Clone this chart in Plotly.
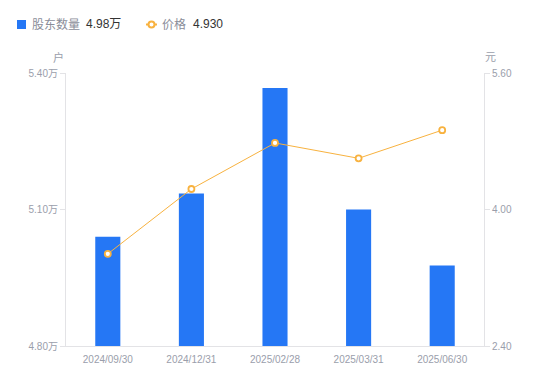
import plotly.graph_objects as go

# ---- data ----
dates = ["2024/09/30", "2024/12/31", "2025/02/28", "2025/03/31", "2025/06/30"]
holders_wan = [5.04, 5.135, 5.367, 5.10, 4.977]   # 股东数量 (万户)
price = [3.48, 4.24, 4.78, 4.60, 4.93]             # 价格 (元)
left_ticks = [4.80, 5.10, 5.40]
right_ticks = [2.40, 4.00, 5.60]

W, H = 550, 381
L, R, T, B = 66, 484, 73, 346

def px(x):
    return (x - L) / (R - L)

def py(y):
    return (B - y) / (B - T)

FONT = "Liberation Sans, Arial, Noto Sans CJK SC, sans-serif"
GRAY = "#9a9eab"
AXIS = "#e3e3e6"
BLUE = "#2577F5"
ORANGE = "#F8B23F"

fig = go.Figure()
fig.add_trace(go.Bar(
    x=dates, y=holders_wan, name="股东数量",
    marker=dict(color=BLUE, line=dict(width=0)),
    width=0.3, yaxis="y", showlegend=False,
))
fig.add_trace(go.Scatter(
    x=dates, y=price, name="价格", mode="lines+markers",
    line=dict(color=ORANGE, width=1),
    marker=dict(size=6, color="white", line=dict(color=ORANGE, width=1.8)),
    yaxis="y2", showlegend=False,
))

fig.update_layout(
    width=W, height=H,
    margin=dict(l=L, r=W - R, t=T, b=H - B, pad=0),
    plot_bgcolor="white", paper_bgcolor="white",
    font=dict(family=FONT, size=10, color=GRAY),
    showlegend=False,
    xaxis=dict(
        type="category", showline=True, linecolor=AXIS, linewidth=1,
        ticks="outside", ticklen=4, tickcolor="rgba(0,0,0,0)",
        showgrid=False, tickfont=dict(size=10, color=GRAY),
        range=[-0.5, 4.5], fixedrange=True,
    ),
    yaxis=dict(
        range=[4.80, 5.40], tickvals=left_ticks,
        ticktext=[f"{v:.2f}万" for v in left_ticks],
        showline=True, linecolor=AXIS, linewidth=1,
        ticks="outside", ticklen=5, tickcolor=AXIS, tickwidth=1,
        showgrid=False, zeroline=False, tickfont=dict(size=10, color=GRAY),
    ),
    yaxis2=dict(
        range=[2.40, 5.60], tickvals=right_ticks,
        ticktext=[f"{v:.2f}" for v in right_ticks],
        overlaying="y", side="right",
        showline=True, linecolor=AXIS, linewidth=1,
        ticks="outside", ticklen=5, tickcolor=AXIS, tickwidth=1,
        showgrid=False, zeroline=False, tickfont=dict(size=10, color=GRAY),
    ),
)

# axis unit labels
fig.add_annotation(text="户", x=px(58.5), y=py(57), xref="paper", yref="paper",
                   showarrow=False, font=dict(size=11, color=GRAY),
                   xanchor="center", yanchor="middle")
fig.add_annotation(text="元", x=px(490), y=py(57), xref="paper", yref="paper",
                   showarrow=False, font=dict(size=11, color=GRAY),
                   xanchor="center", yanchor="middle")

# custom legend
ly = 24.5
fig.add_shape(type="rect", xref="paper", yref="paper",
              x0=px(17), x1=px(26), y0=py(20), y1=py(29),
              fillcolor=BLUE, line=dict(width=0))
fig.add_annotation(text="股东数量", x=px(30), y=py(ly), xref="paper", yref="paper",
                   showarrow=False, xanchor="left", yanchor="middle",
                   font=dict(size=12, color="#8a8d99"))
fig.add_annotation(text=f"{holders_wan[-1]:.2f}万", x=px(84), y=py(ly), xref="paper", yref="paper",
                   showarrow=False, xanchor="left", yanchor="middle",
                   font=dict(size=12, color="#333333"))
fig.add_shape(type="line", xref="paper", yref="paper",
              x0=px(146), x1=px(157), y0=py(ly), y1=py(ly),
              line=dict(color=ORANGE, width=2))
fig.add_shape(type="circle", xref="paper", yref="paper",
              x0=px(148.5), x1=px(154.5), y0=py(21.5), y1=py(27.5),
              fillcolor="white", line=dict(color=ORANGE, width=2))
fig.add_annotation(text="价格", x=px(160), y=py(ly), xref="paper", yref="paper",
                   showarrow=False, xanchor="left", yanchor="middle",
                   font=dict(size=12, color="#8a8d99"))
fig.add_annotation(text=f"{price[-1]:.3f}", x=px(191), y=py(ly), xref="paper", yref="paper",
                   showarrow=False, xanchor="left", yanchor="middle",
                   font=dict(size=12, color="#333333"))

fig.write_html(
    "out.html",
    config={"displayModeBar": False},
    post_script="document.body.style.margin='0';document.body.style.overflow='hidden';",
)
